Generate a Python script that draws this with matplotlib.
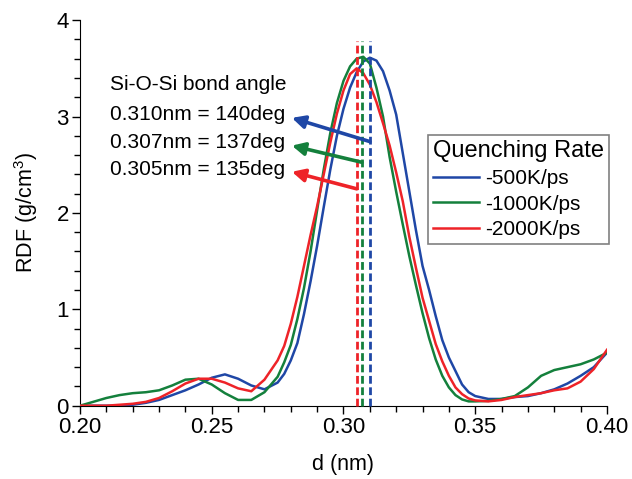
import matplotlib
matplotlib.use('Agg')
import matplotlib.pyplot as plt
from matplotlib.ticker import MultipleLocator, FormatStrFormatter

plt.rcParams['font.family'] = 'Liberation Sans'
plt.rcParams['mathtext.default'] = 'regular'

# distance (nm)
d = [0.200, 0.205, 0.210, 0.215, 0.220, 0.225, 0.230, 0.235, 0.240, 0.245,
     0.250, 0.255, 0.260, 0.265, 0.270, 0.275,
     0.2775, 0.280, 0.2825, 0.285, 0.2875, 0.290, 0.2925, 0.295, 0.2975, 0.300,
     0.3025, 0.305, 0.3075, 0.310, 0.3125, 0.315, 0.3175, 0.320, 0.3225, 0.325,
     0.3275, 0.330, 0.3325, 0.335, 0.3375, 0.340, 0.3425, 0.345, 0.3475,
     0.350, 0.355, 0.360, 0.365, 0.370, 0.375, 0.380, 0.385, 0.390, 0.395, 0.400]

rdf_500 = [0.0, 0.0, 0.0, 0.0, 0.01, 0.03, 0.06, 0.11, 0.16, 0.22,
           0.29, 0.325, 0.28, 0.21, 0.17, 0.24,
           0.33, 0.47, 0.65, 0.95, 1.29, 1.66, 2.06, 2.45, 2.80, 3.08,
           3.30, 3.46, 3.57, 3.61, 3.58, 3.47, 3.27, 3.02, 2.62, 2.22,
           1.82, 1.45, 1.20, 0.93, 0.68, 0.50, 0.36, 0.22, 0.14,
           0.10, 0.07, 0.07, 0.09, 0.10, 0.13, 0.17, 0.23, 0.31, 0.40, 0.55]

rdf_1000 = [0.0, 0.04, 0.08, 0.11, 0.13, 0.14, 0.16, 0.21, 0.27, 0.28,
            0.22, 0.13, 0.06, 0.06, 0.14, 0.30,
            0.45, 0.63, 0.90, 1.22, 1.60, 2.03, 2.45, 2.83, 3.14, 3.37,
            3.52, 3.60, 3.62, 3.55, 3.30, 3.00, 2.58, 2.22, 1.88, 1.55,
            1.25, 0.96, 0.70, 0.48, 0.31, 0.19, 0.11, 0.065, 0.045,
            0.045, 0.05, 0.07, 0.10, 0.19, 0.31, 0.37, 0.40, 0.43, 0.48, 0.55]

rdf_2000 = [0.0, 0.0, 0.0, 0.01, 0.02, 0.04, 0.08, 0.15, 0.23, 0.28,
            0.28, 0.24, 0.18, 0.15, 0.27, 0.47,
            0.62, 0.85, 1.13, 1.45, 1.77, 2.07, 2.40, 2.73, 3.03, 3.27,
            3.44, 3.50, 3.45, 3.33, 3.15, 2.93, 2.70, 2.42, 2.12, 1.75,
            1.43, 1.12, 0.88, 0.64, 0.46, 0.31, 0.19, 0.12, 0.075,
            0.055, 0.045, 0.06, 0.09, 0.11, 0.13, 0.16, 0.18, 0.25, 0.38, 0.58]

labels = ['-500K/ps', '-1000K/ps', '-2000K/ps']
colors = ['#1f47a6', '#14803c', '#ee2328']

# peak positions and the bond angle notes
peak_d = [0.310, 0.307, 0.305]
notes = ['0.310nm = 140deg', '0.307nm = 137deg', '0.305nm = 135deg']

fig = plt.figure(figsize=(6.32, 4.79), dpi=100)
ax = fig.add_axes([0.1266, 0.153, 0.8338, 0.805])

for y, lab, c in zip([rdf_500, rdf_1000, rdf_2000], labels, colors):
    ax.plot(d, y, color=c, lw=1.8, label=lab, zorder=3,
            solid_joinstyle='round')

# dashed peak markers
for p, c in zip(peak_d, colors):
    ax.plot([p, p], [0, 3.78], color=c, lw=2, dashes=(2.8, 1.3), zorder=4,
            clip_on=False)

# text + arrows
ax.text(0.2114, 3.27, 'Si-O-Si bond angle', fontsize=15, va='baseline')
base_y = [2.96, 2.67, 2.39]
arrow_start = [2.74, 2.525, 2.25]
arrow_tip = [2.986, 2.698, 2.427]
for p, n, c, by, s, t in zip(peak_d, notes, colors, base_y, arrow_start, arrow_tip):
    ax.text(0.2114, by, n, fontsize=15, va='baseline')
    ax.annotate('', xy=(0.2804, t), xytext=(p, s),
                arrowprops=dict(arrowstyle='-|>', color=c, lw=2.6,
                                mutation_scale=19, shrinkA=0, shrinkB=0),
                zorder=5)

ax.set_xlim(0.20, 0.40)
ax.set_ylim(0, 4)
ax.xaxis.set_major_locator(MultipleLocator(0.05))
ax.xaxis.set_minor_locator(MultipleLocator(0.01))
ax.xaxis.set_major_formatter(FormatStrFormatter('%.2f'))
ax.yaxis.set_major_locator(MultipleLocator(1))
ax.yaxis.set_minor_locator(MultipleLocator(0.2))
ax.tick_params(which='major', length=6, width=1, labelsize=16, pad=2)
ax.tick_params(which='minor', length=4, width=1)

for sp in ['top', 'right']:
    ax.spines[sp].set_visible(False)

ax.set_xlabel('d (nm)', fontsize=15.5, labelpad=12)
ax.set_ylabel('RDF (g/cm$^3$)', fontsize=15.5, labelpad=12)

leg = ax.legend(title='Quenching Rate', loc='upper left',
                bbox_to_anchor=(0.66, 0.702), fontsize=15, title_fontsize=17,
                fancybox=False, edgecolor='#808080', framealpha=1,
                handlelength=2.2, handletextpad=0.3, borderpad=0.25,
                labelspacing=0.32, borderaxespad=0)
leg._legend_box.align = 'left'
leg.get_frame().set_linewidth(1.2)

fig.savefig('out.png', dpi=100)
